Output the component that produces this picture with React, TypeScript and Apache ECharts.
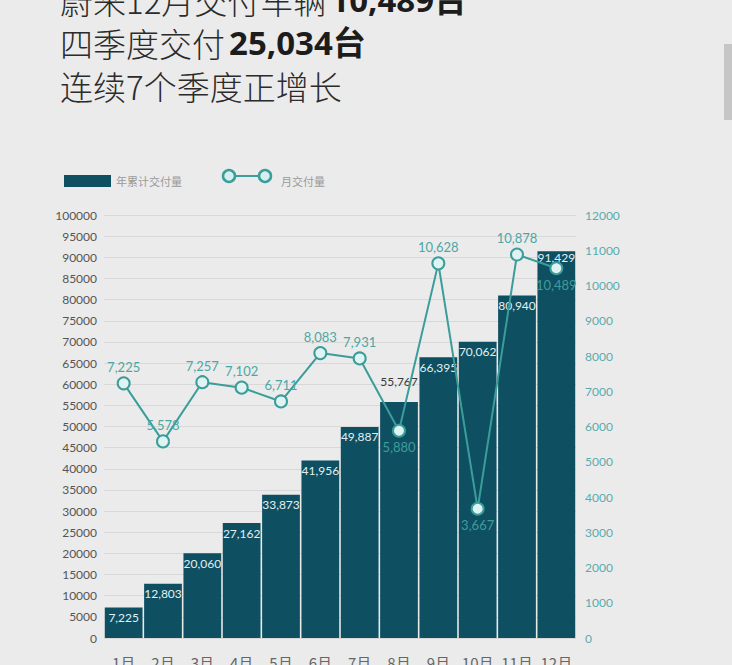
import React, { useEffect, useRef } from 'react'
import * as echarts from 'echarts'

const months = ['1月', '2月', '3月', '4月', '5月', '6月', '7月', '8月', '9月', '10月', '11月', '12月']
// 年累计交付量
const cumulative = [7225, 12803, 20060, 27162, 33873, 41956, 49887, 55767, 66395, 70062, 80940, 91429]
// 月交付量
const monthly = [7225, 5578, 7257, 7102, 6711, 8083, 7931, 5880, 10628, 3667, 10878, 10489]
// 月交付量标签放在下方的月份
const monthlyLabelBelow = [7, 9, 11]
// 累计标签放在柱子上方的月份
const cumulativeLabelAbove = [7]

const titleLines = [
  ['蔚来12月交付车辆', '10,489台'],
  ['四季度交付', '25,034台'],
  ['连续7个季度正增长', '']
]

const fmt = (v: number) => v.toLocaleString('en-US')

const BAR_COLOR = '#0f4f62'
const LINE_COLOR = '#3a9d9a'
const TEAL_TEXT = '#4ba7a4'

const App: React.FC = () => {
  const chartRef = useRef<HTMLDivElement>(null)

  useEffect(() => {
    if (!chartRef.current) return
    const chart = echarts.init(chartRef.current, undefined, { renderer: 'svg' })

    const barData = cumulative.map((v, i) => {
      if (cumulativeLabelAbove.includes(i)) {
        return { value: v, label: { position: 'top', color: '#3a3a3a', distance: 15 } }
      }
      // 最后一根柱子标签贴近顶部，给折线点让位
      if (i === cumulative.length - 1) {
        return { value: v, label: { distance: 0 } }
      }
      return v
    })

    const option: any = {
      animation: false,
      backgroundColor: '#ebebeb',
      textStyle: { fontFamily: 'Lato, "Noto Sans CJK SC", sans-serif' },
      grid: { left: 104, right: 156, top: 215, bottom: 27, outerBoundsMode: 'none', containLabel: false },
      legend: [
        {
          left: 59,
          top: 170,
          itemWidth: 47,
          itemHeight: 12,
          icon: 'rect',
          data: ['年累计交付量'],
          textStyle: { color: '#9a9a9a', fontSize: 11, fontFamily: '"Noto Sans CJK SC"' }
        },
        {
          left: 221,
          top: 170,
          itemWidth: 50,
          itemHeight: 12,
          icon: 'none',
          data: ['月交付量'],
          textStyle: { color: '#9a9a9a', fontSize: 11, fontFamily: '"Noto Sans CJK SC"' }
        }
      ],
      graphic: [
        // 标题
        ...titleLines.map((line, i) => ({
          type: 'text',
          left: 60,
          top: -17 + i * 43,
          style: {
            text: `{n|${line[0]}}${line[1] ? `{b|${line[1]}}` : ''}`,
            rich: {
              n: { fontSize: 33, fontFamily: '"Noto Sans CJK SC"', fill: '#2b2b2b', fontWeight: 300 },
              b: { fontSize: 33, fontFamily: '"Noto Sans", "Noto Sans CJK SC"', fill: '#1c1c1c', fontWeight: 'bold', padding: [0, 0, 0, 4] }
            }
          }
        })),
        // 图例中的折线图标
        { type: 'line', shape: { x1: 234, y1: 176, x2: 260, y2: 176 }, style: { stroke: LINE_COLOR, lineWidth: 2 } },
        { type: 'circle', shape: { cx: 229, cy: 176, r: 6 }, style: { fill: '#d6efee', stroke: LINE_COLOR, lineWidth: 2.5 } },
        { type: 'circle', shape: { cx: 265, cy: 176, r: 6 }, style: { fill: '#d6efee', stroke: LINE_COLOR, lineWidth: 2.5 } },
        // 右侧滚动条
        { type: 'rect', shape: { x: 724, y: 44, width: 8, height: 76 }, style: { fill: '#c6c6c6' } }
      ],
      xAxis: {
        type: 'category',
        data: months,
        axisLine: { show: false },
        axisTick: { show: false },
        axisLabel: { color: '#666', fontSize: 15, margin: 17, interval: 0, fontFamily: '"Noto Sans CJK SC"' }
      },
      yAxis: [
        {
          type: 'value',
          min: 0,
          max: 100000,
          interval: 5000,
          axisLine: { show: false },
          axisTick: { show: false },
          axisLabel: { color: '#555', fontSize: 12, margin: 7, formatter: (v: number) => String(v) },
          splitLine: { lineStyle: { color: '#d8d8d8', width: 1 } }
        },
        {
          type: 'value',
          min: 0,
          max: 12000,
          interval: 1000,
          axisLine: { show: false },
          axisTick: { show: false },
          axisLabel: { color: '#5aabab', fontSize: 12, margin: 9, formatter: (v: number) => String(v) },
          splitLine: { show: false }
        }
      ],
      series: [
        {
          name: '年累计交付量',
          type: 'bar',
          yAxisIndex: 0,
          barCategoryGap: '4%',
          itemStyle: { color: BAR_COLOR },
          data: barData,
          label: {
            show: true,
            position: 'insideTop',
            distance: 4,
            color: '#e2eff2',
            fontSize: 12,
            formatter: (p: any) => fmt(p.value)
          }
        },
        {
          name: '月交付量',
          type: 'line',
          yAxisIndex: 1,
          symbol: 'circle',
          symbolSize: 12,
          lineStyle: { color: LINE_COLOR, width: 2 },
          itemStyle: { color: '#dff3f2', borderColor: LINE_COLOR, borderWidth: 2 },
          data: monthly.map((v, i) =>
            monthlyLabelBelow.includes(i)
              ? { value: v, label: { position: 'bottom', color: '#3f9c9a' } }
              : v
          ),
          label: {
            show: true,
            position: 'top',
            distance: 3,
            color: TEAL_TEXT,
            fontSize: 13,
            formatter: (p: any) => fmt(p.value)
          },
          z: 5
        }
      ]
    }

    chart.setOption(option)
    return () => {
      chart.dispose()
    }
  }, [])

  return (
    <div
      ref={chartRef}
      style={{ position: 'fixed', left: 0, top: 0, width: 732, height: 665 }}
    />
  )
}

export default App
